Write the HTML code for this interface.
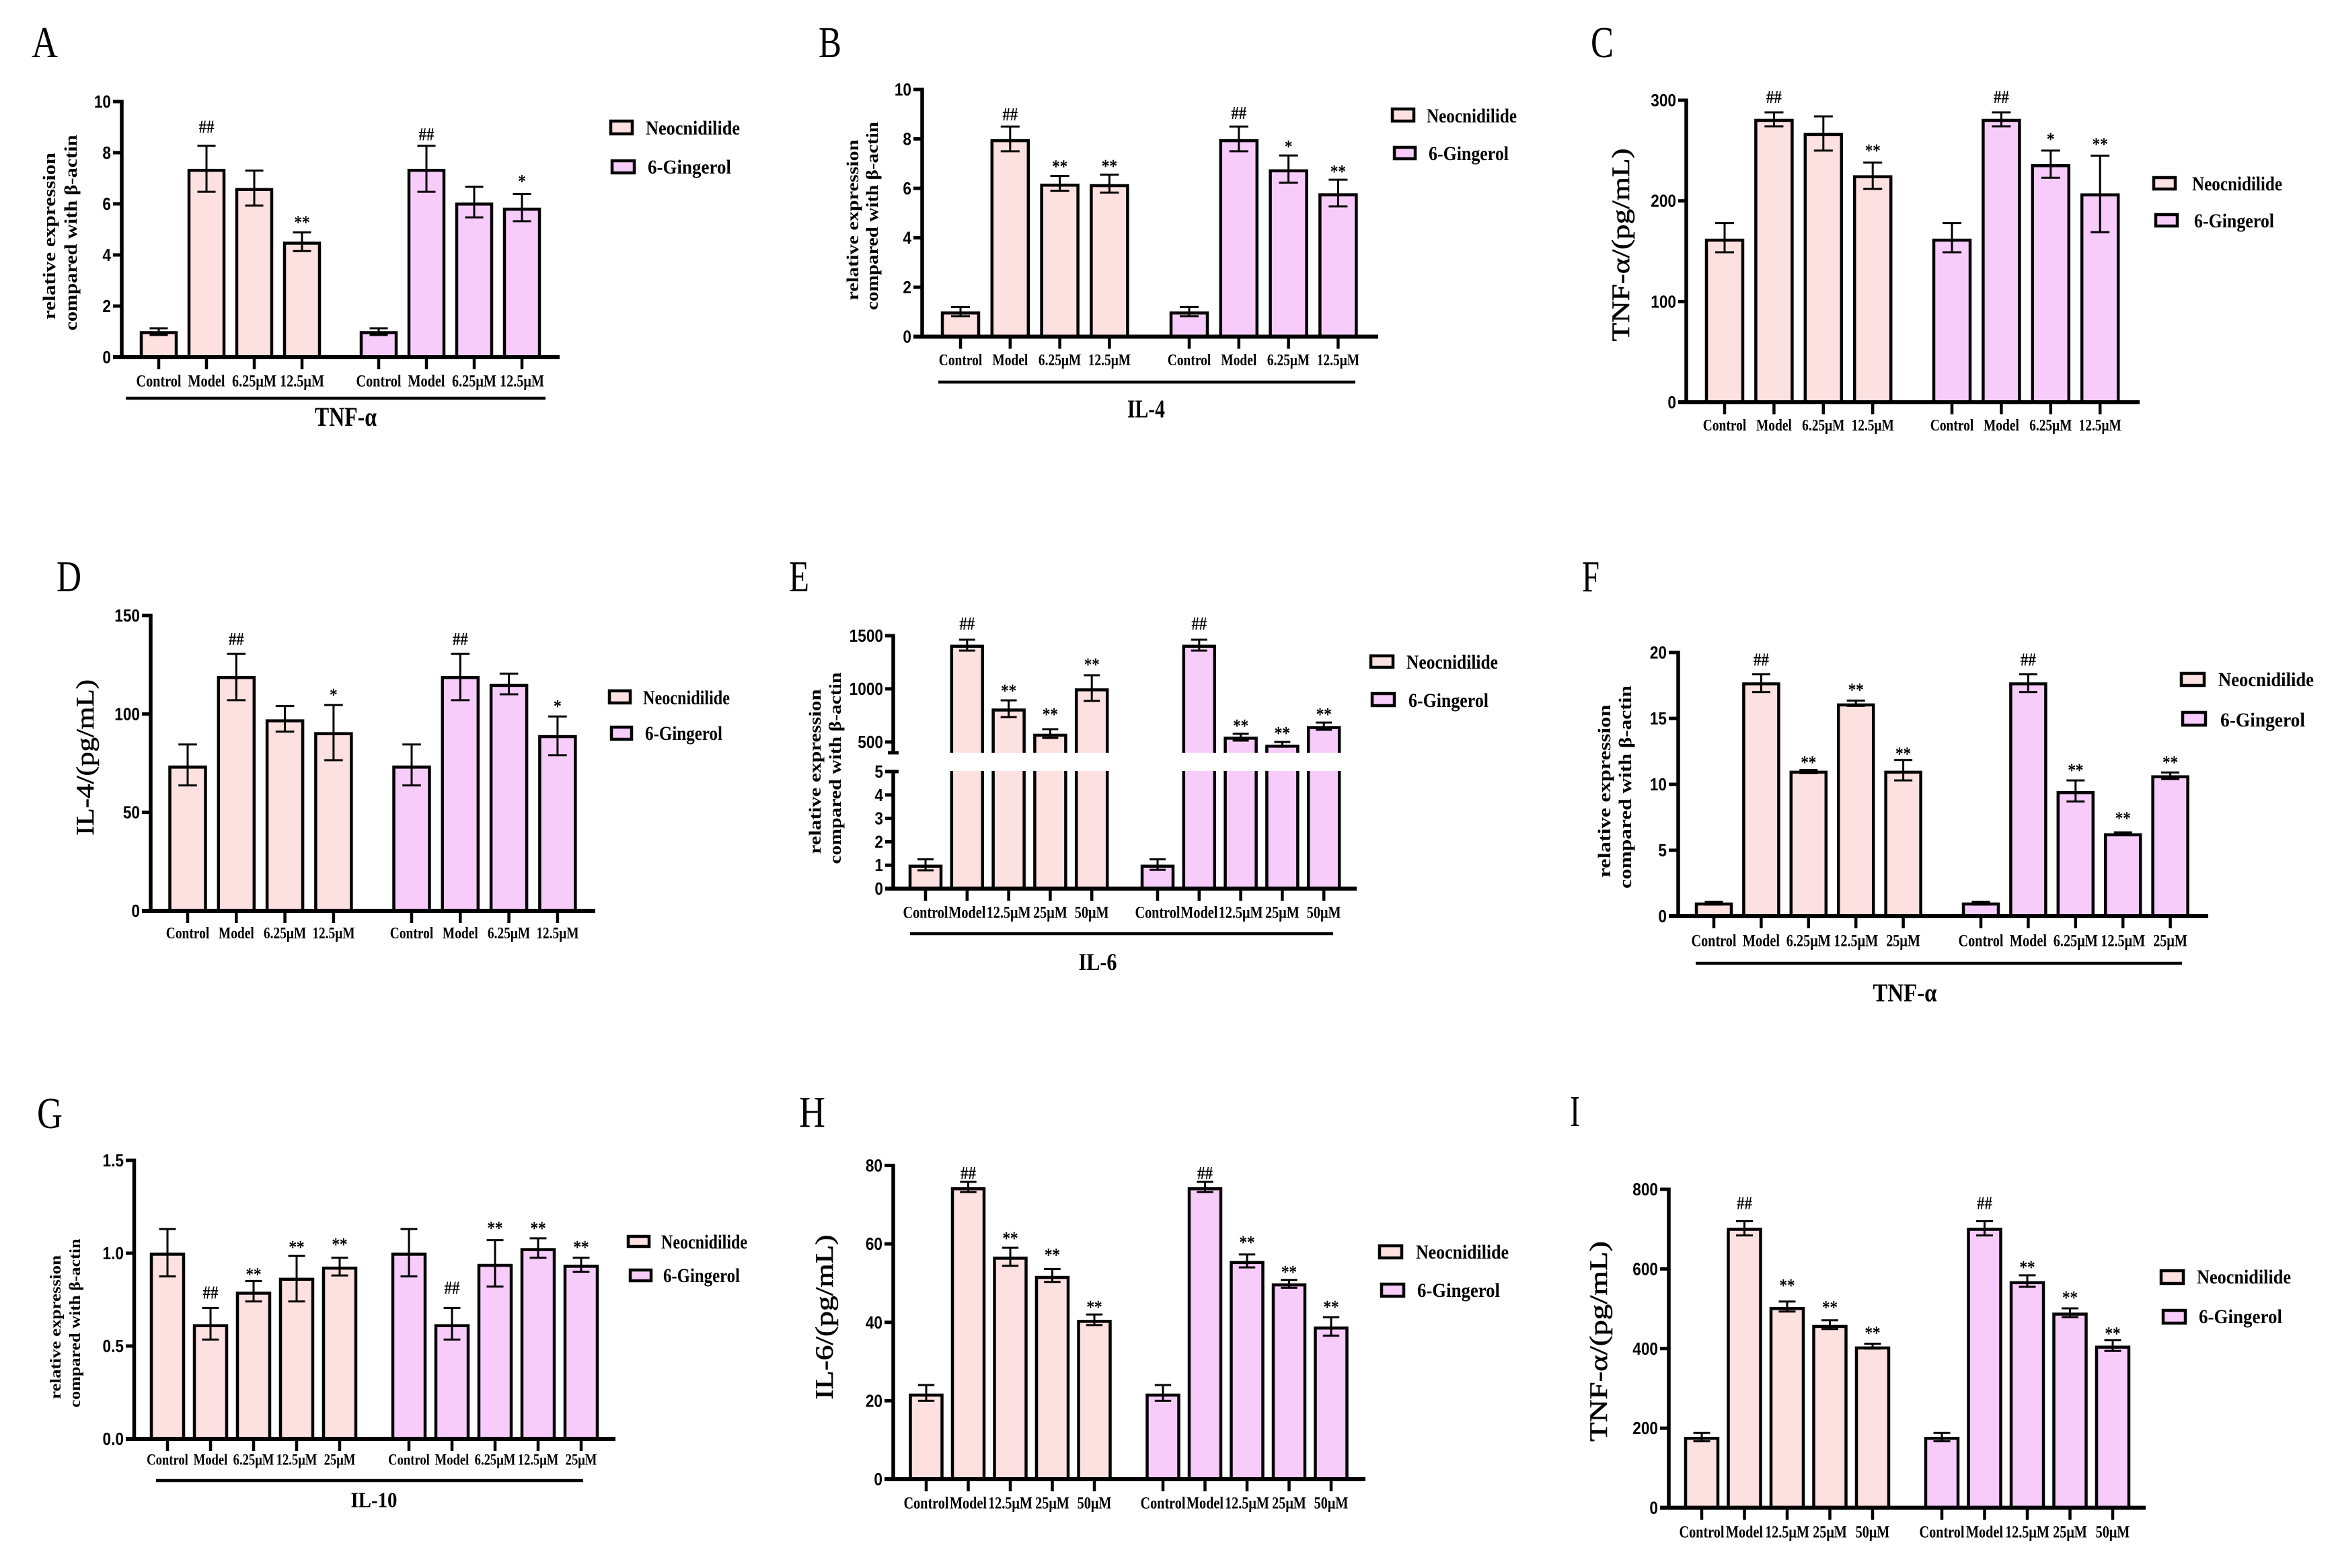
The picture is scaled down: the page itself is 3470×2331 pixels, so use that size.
<!DOCTYPE html>
<html lang="en">
<head>
<meta charset="utf-8">
<title>Relative expression and cytokine levels, Neocnidilide and 6-Gingerol</title>
<style>
html,body{margin:0;padding:0;background:#fff;width:3470px;height:2331px;overflow:hidden}
svg{display:block}
text{fill:#000}
</style>
</head>
<body>
<svg id="figure" xmlns="http://www.w3.org/2000/svg" width="3470" height="2331" viewBox="0 0 3470 2331"></svg>
<script>
/* ---------- category labels ---------- */
const labelsFour = ['Control','Model','6.25μM','12.5μM'];
const labelsFiveHigh = ['Control','Model','12.5μM','25μM','50μM'];
const labelsFiveLow = ['Control','Model','6.25μM','12.5μM','25μM'];
const seriesNames = ['Neocnidilide','6-Gingerol'];

/* ---------- panel A ---------- */
const aYTicks = [0,2,4,6,8,10];
const aNeoMean = [1,7.35,6.6,4.5];
const aNeoHigh = [1.13,8.27,7.3,4.88];
const aNeoLow = [0.87,6.47,5.93,4.15];
const aNeoSig = ['','##','','**'];
const aGinMean = [1,7.35,6.03,5.83];
const aGinHigh = [1.13,8.27,6.67,6.38];
const aGinLow = [0.87,6.47,5.47,5.32];
const aGinSig = ['','##','','*'];

/* ---------- panel B ---------- */
const bYTicks = [0,2,4,6,8,10];
const bNeoMean = [1,7.97,6.17,6.15];
const bNeoHigh = [1.2,8.5,6.5,6.55];
const bNeoLow = [0.83,7.5,5.9,5.83];
const bNeoSig = ['','##','**','**'];
const bGinMean = [1,7.97,6.75,5.78];
const bGinHigh = [1.2,8.5,7.33,6.35];
const bGinLow = [0.83,7.5,6.23,5.27];
const bGinSig = ['','##','*','**'];

/* ---------- panel C ---------- */
const cYTicks = [0,100,200,300];
const cNeoMean = [162,281,267,225];
const cNeoHigh = [178,288,284,238];
const cNeoLow = [149,274,250,212];
const cNeoSig = ['','##','','**'];
const cGinMean = [162,281,236,207];
const cGinHigh = [178,288,250,245];
const cGinLow = [149,274,223,169];
const cGinSig = ['','##','*','**'];

/* ---------- panel D ---------- */
const dYTicks = [0,50,100,150];
const dNeoMean = [73.5,119,97,90.5];
const dNeoHigh = [84.5,130.5,104,104.5];
const dNeoLow = [63.7,107,91,76.5];
const dNeoSig = ['','##','','*'];
const dGinMean = [73.5,119,115,89];
const dGinHigh = [84.5,130.5,120.5,98.7];
const dGinLow = [63.7,107,110,79];
const dGinSig = ['','##','','*'];

/* ---------- panel E (broken axis) ---------- */
const eYTicks = [0,1,2,3,4,5,500,1000,1500];
const eNeoMean = [1,1410,810,573,1000];
const eNeoHigh = [1.25,1462,892,620,1127];
const eNeoLow = [0.78,1360,734,538,886];
const eNeoSig = ['','##','**','**','**'];
const eGinMean = [1,1410,545,470,645];
const eGinHigh = [1.25,1462,577,500,683];
const eGinLow = [0.8,1360,513,455,615];
const eGinSig = ['','##','**','**','**'];

/* ---------- panel F ---------- */
const fYTicks = [0,5,10,15,20];
const fNeoMean = [1,17.7,11,16.1,11];
const fNeoHigh = [1.1,18.35,11.1,16.35,11.85];
const fNeoLow = [0.88,17,10.85,15.95,10.3];
const fNeoSig = ['','##','**','**','**'];
const fGinMean = [1,17.7,9.45,6.25,10.65];
const fGinHigh = [1.1,18.35,10.3,6.35,10.9];
const fGinLow = [0.88,17,8.7,6.15,10.4];
const fGinSig = ['','##','**','**','**'];

/* ---------- panel G ---------- */
const gYTicks = ['0.0','0.5','1.0','1.5'];
const gNeoMean = [1,0.615,0.79,0.865,0.925];
const gNeoHigh = [1.13,0.705,0.85,0.985,0.975];
const gNeoLow = [0.875,0.535,0.74,0.74,0.88];
const gNeoSig = ['','##','**','**','**'];
const gGinMean = [1,0.615,0.94,1.025,0.935];
const gGinHigh = [1.13,0.705,1.07,1.08,0.975];
const gGinLow = [0.875,0.535,0.82,0.975,0.9];
const gGinSig = ['','##','**','**','**'];

/* ---------- panel H ---------- */
const hYTicks = [0,20,40,60,80];
const hNeoMean = [21.7,74.3,56.6,51.7,40.5];
const hNeoHigh = [24,75.8,59,53.6,42];
const hNeoLow = [20,73.2,54.4,50.3,39.3];
const hNeoSig = ['','##','**','**','**'];
const hGinMean = [21.7,74.3,55.5,49.8,38.8];
const hGinHigh = [24,75.8,57.3,50.8,41.3];
const hGinLow = [20,73.2,54,48.8,36.6];
const hGinSig = ['','##','**','**','**'];

/* ---------- panel I ---------- */
const iYTicks = [0,200,400,600,800];
const iNeoMean = [177,702,503,458,404];
const iNeoHigh = [188,720,518,471,412];
const iNeoLow = [167,684,493,449,400];
const iNeoSig = ['','##','**','**','**'];
const iGinMean = [177,702,568,489,406];
const iGinHigh = [188,720,584,501,421];
const iGinLow = [167,684,555,479,394];
const iGinSig = ['','##','**','**','**'];

/* ---------- layout of each panel (geometry only, no data) ---------- */
const panels = [
 {key:'a',letter:'A',letterX:47,letterY:85,letterW:39,
  ticks:aYTicks,labels:labelsFour,
  neo:{mean:aNeoMean,high:aNeoHigh,low:aNeoLow,sig:aNeoSig,lift:[0,28,0,19]},
  gin:{mean:aGinMean,high:aGinHigh,low:aGinLow,sig:aGinSig,lift:[0,17,0,23]},
  ax:181,y0:531,yTop:151,left:168,right:832,first:[236,563],step:71,barW:52,labelY:566,labelFont:25,
  under:{y:592,x1:187,x2:811},title:{text:'TNF-α',cx:514,cy:620,w:92,font:40},
  ytitle:[{text:'relative expression',cx:74,cy:351,len:248},{text:'compared with β-actin',cx:106,cy:346,len:291}],ytitleFont:26,
  legend:[{x:908,y:180,w:32,h:19,tx:960,tw:140,cy:190},{x:910,y:239,w:33,h:18,tx:963,tw:124,cy:248}]},
 {key:'b',letter:'B',letterX:1217,letterY:85,letterW:34,
  ticks:bYTicks,labels:labelsFour,
  neo:{mean:bNeoMean,high:bNeoHigh,low:bNeoLow,sig:bNeoSig,lift:[0,18,18,17]},
  gin:{mean:bGinMean,high:bGinHigh,low:bGinLow,sig:bGinSig,lift:[0,20,17,16]},
  ax:1371,y0:500.5,yTop:133,left:1358,right:2049,first:[1428,1768],step:73.8,barW:54,labelY:535,labelFont:24,
  under:{y:568,x1:1395,x2:2015},title:{text:'IL-4',cx:1704,cy:608,w:56,font:38},
  ytitle:[{text:'relative expression',cx:1268,cy:327,len:239},{text:'compared with β-actin',cx:1297,cy:321,len:280}],ytitleFont:25,
  legend:[{x:2070,y:162,w:32,h:18,tx:2121,tw:134,cy:172},{x:2073,y:219,w:31,h:17,tx:2124,tw:119,cy:228}]},
 {key:'c',letter:'C',letterX:2365,letterY:85,letterW:34,
  ticks:cYTicks,labels:labelsFour,
  neo:{mean:cNeoMean,high:cNeoHigh,low:cNeoLow,sig:cNeoSig,lift:[0,23,0,22]},
  gin:{mean:cGinMean,high:cGinHigh,low:cGinLow,sig:cGinSig,lift:[0,23,21,21]},
  ax:2507,y0:598,yTop:149,left:2495,right:3181,first:[2564,2902],step:73.4,barW:54,labelY:632,labelFont:24,
  ytitleLarge:{text:'TNF-α/(pg/mL)',cx:2411,cy:364,len:287},
  legend:[{x:3202,y:264,w:32,h:17,tx:3259,tw:134,cy:273},{x:3205,y:319,w:32,h:17,tx:3262,tw:119,cy:328}]},
 {key:'d',letter:'D',letterX:84,letterY:879,letterW:37,
  ticks:dYTicks,labels:labelsFour,
  neo:{mean:dNeoMean,high:dNeoHigh,low:dNeoLow,sig:dNeoSig,lift:[0,22,0,19]},
  gin:{mean:dGinMean,high:dGinHigh,low:dGinLow,sig:dGinSig,lift:[0,22,0,19]},
  ax:224,y0:1354,yTop:915,left:211,right:885,first:[279,612],step:72.3,barW:53,labelY:1387,labelFont:24,
  ytitleLarge:{text:'IL-4/(pg/mL)',cx:128,cy:1126,len:232},
  legend:[{x:906,y:1027,w:31,h:18,tx:956,tw:129,cy:1037},{x:909,y:1081,w:30,h:18,tx:959,tw:115,cy:1090}]},
 {key:'e',letter:'E',letterX:1173,letterY:879,letterW:30,
  ticks:eYTicks,labels:labelsFiveHigh,
  neo:{mean:eNeoMean,high:eNeoHigh,low:eNeoLow,sig:eNeoSig,lift:[0,24,18,26,20]},
  gin:{mean:eGinMean,high:eGinHigh,low:eGinLow,sig:eGinSig,lift:[0,24,16,17,16]},
  ax:1328,y0:1321,yTop:945,left:1316,right:2017,first:[1376,1721],step:61.8,barW:46,labelY:1356,labelFont:25,
  brk:{lowMax:5,lowTop:1147,hiRef:500,hiRefY:1103,hiMax:1500,hiTop:945,hiBottom:1119},
  under:{y:1388,x1:1353,x2:1982},title:{text:'IL-6',cx:1632,cy:1430,w:57,font:36},
  ytitle:[{text:'relative expression',cx:1212,cy:1147,len:245},{text:'compared with β-actin',cx:1242,cy:1142,len:285}],ytitleFont:25,
  legend:[{x:2038,y:975,w:33,h:17,tx:2091,tw:136,cy:984},{x:2040,y:1031,w:33,h:18,tx:2094,tw:119,cy:1041}]},
 {key:'f',letter:'F',letterX:2352,letterY:879,letterW:26,
  ticks:fYTicks,labels:labelsFiveLow,
  neo:{mean:fNeoMean,high:fNeoHigh,low:fNeoLow,sig:fNeoSig,lift:[0,22,15,20,13]},
  gin:{mean:fGinMean,high:fGinHigh,low:fGinLow,sig:fGinSig,lift:[0,22,19,25,19]},
  ax:2495,y0:1362,yTop:970,left:2481,right:3283,first:[2548,2945],step:70.4,barW:52,labelY:1398,labelFont:25,
  under:{y:1432,x1:2521,x2:3244},title:{text:'TNF-α',cx:2832,cy:1476,w:95,font:38},
  ytitle:[{text:'relative expression',cx:2386,cy:1176,len:257},{text:'compared with β-actin',cx:2417,cy:1170,len:302}],ytitleFont:26,
  legend:[{x:3243,y:1001,w:34,h:18,tx:3298,tw:142,cy:1010},{x:3245,y:1059,w:34,h:19,tx:3301,tw:126,cy:1070}]},
 {key:'g',letter:'G',letterX:55,letterY:1677,letterW:38,
  ticks:gYTicks,labels:labelsFiveLow,
  neo:{mean:gNeoMean,high:gNeoHigh,low:gNeoLow,sig:gNeoSig,lift:[0,23,14,17,24]},
  gin:{mean:gGinMean,high:gGinHigh,low:gGinLow,sig:gGinSig,lift:[0,30,22,19,20]},
  ax:199.5,y0:2139,yTop:1725,left:187,right:915,first:[249,608],step:64,barW:48,labelY:2170,labelFont:23,
  under:{y:2201,x1:232,x2:867},title:{text:'IL-10',cx:556,cy:2230,w:69,font:32},
  ytitle:[{text:'relative expression',cx:82,cy:1973,len:214},{text:'compared with β-actin',cx:111,cy:1967,len:251}],ytitleFont:23,
  legend:[{x:934,y:1838,w:31,h:15,tx:983,tw:128,cy:1846},{x:937,y:1888,w:31,h:16,tx:986,tw:114,cy:1896}]},
 {key:'h',letter:'H',letterX:1188,letterY:1675,letterW:39,
  ticks:hYTicks,labels:labelsFiveHigh,
  neo:{mean:hNeoMean,high:hNeoHigh,low:hNeoLow,sig:hNeoSig,lift:[0,13,18,25,15]},
  gin:{mean:hGinMean,high:hGinHigh,low:hGinLow,sig:hGinSig,lift:[0,13,22,16,19]},
  ax:1328,y0:2199,yTop:1732.5,left:1315,right:2030,first:[1377,1729],step:62.5,barW:47,labelY:2234,labelFont:25,
  ytitleLarge:{text:'IL-6/(pg/mL)',cx:1227,cy:1958,len:245},
  legend:[{x:2051,y:1852,w:33,h:18,tx:2105,tw:138,cy:1861},{x:2054,y:1909,w:33,h:18,tx:2107,tw:123,cy:1918}]},
 {key:'i',letter:'I',letterX:2334,letterY:1674,letterW:15,
  ticks:iYTicks,labels:labelsFiveHigh,
  neo:{mean:iNeoMean,high:iNeoHigh,low:iNeoLow,sig:iNeoSig,lift:[0,27,28,23,20]},
  gin:{mean:iGinMean,high:iGinHigh,low:iGinLow,sig:iGinSig,lift:[0,27,16,20,14]},
  ax:2481,y0:2241.5,yTop:1768,left:2468,right:3190,first:[2530,2887],step:63.5,barW:48,labelY:2277,labelFont:25,
  ytitleLarge:{text:'TNF-α/(pg/mL)',cx:2378,cy:1994,len:298},
  legend:[{x:3213,y:1889,w:33,h:19,tx:3266,tw:140,cy:1898},{x:3216,y:1948,w:33,h:19,tx:3269,tw:124,cy:1957}]}
];

const COLORS = ['#FDE0E0','#F8CCFA'];
const SERIF = '"Liberation Serif", serif';
const SANS = '"Liberation Sans", sans-serif';
const NS = 'http://www.w3.org/2000/svg';
const root = document.getElementById('figure');

function node(tag, parent){
  const el = document.createElementNS(NS, tag);
  parent.appendChild(el);
  return el;
}
function lineEl(parent, x1, y1, x2, y2, w){
  const el = node('line', parent);
  el.setAttribute('x1', x1);
  el.setAttribute('y1', y1);
  el.setAttribute('x2', x2);
  el.setAttribute('y2', y2);
  el.setAttribute('stroke', '#000');
  el.setAttribute('stroke-width', w);
  return el;
}
function rectEl(parent, x, y, w, h, fill, sw){
  const el = node('rect', parent);
  el.setAttribute('x', x);
  el.setAttribute('y', y);
  el.setAttribute('width', w);
  el.setAttribute('height', h);
  el.setAttribute('fill', fill);
  if (sw) { el.setAttribute('stroke', '#000'); el.setAttribute('stroke-width', sw); }
  return el;
}
function textEl(parent, str, size, family, weight, transform, anchor, len){
  const el = node('text', parent);
  el.textContent = str;
  el.setAttribute('font-size', size);
  el.setAttribute('font-family', family);
  el.setAttribute('font-weight', weight);
  el.setAttribute('transform', transform);
  el.setAttribute('text-anchor', anchor);
  if (len) { el.setAttribute('textLength', len); el.setAttribute('lengthAdjust', 'spacingAndGlyphs'); }
  return el;
}

/* axis function: value -> pixel, linear or broken */
function yScale(p, v){
  if (p.brk) {
    const b = p.brk;
    if (v <= b.lowMax) return p.y0 - v * (p.y0 - b.lowTop) / b.lowMax;
    return b.hiRefY - (v - b.hiRef) * (b.hiRefY - b.hiTop) / (b.hiMax - b.hiRef);
  }
  const ticks = p.ticks.map(Number);
  return p.y0 - v * (p.y0 - p.yTop) / Math.max.apply(null, ticks);
}
/* axis function: group / category -> pixel */
function xScale(p, group, i){
  return p.first[group] + i * p.step;
}

function drawSeries(g, p, s, group, seriesLabel){
  const w = p.barW;
  s.mean.forEach(function(v, i){
    const cx = xScale(p, group, i);
    const top = yScale(p, v) + 1.5;
    const bar = rectEl(g, cx - w/2, top, w, p.y0 - top, COLORS[group], 4.5);
    
    
  });
  if (p.brk) {
    const band = rectEl(g, p.ax + 10, p.brk.hiBottom, p.right - p.ax, p.brk.lowTop - 1 - p.brk.hiBottom, '#fff', 0);
    
    
  }
  s.mean.forEach(function(v, i){
    const cx = xScale(p, group, i);
    const hi = yScale(p, s.high[i]);
    const lo = yScale(p, s.low[i]);
    const cap = w * 0.52;
    const stem = lineEl(g, cx, hi, cx, lo, 3);
    
    
    const capHi = lineEl(g, cx - cap/2, hi, cx + cap/2, hi, 3);
    
    
    const capLo = lineEl(g, cx - cap/2, lo, cx + cap/2, lo, 3);
    
    
    const sig = s.sig[i];
    if (sig) {
      const cy = hi - s.lift[i];
      const isHash = sig.charAt(0) === '#';
      const size = isHash ? 27 : 27;
      const base = isHash ? cy + 9 : cy + 13;
      const mark = textEl(g, sig, size, SERIF, isHash ? 'bold' : 'normal',
        'translate(' + cx + ',' + base + ') scale(0.85,1)', 'middle');
      if (!isHash) { mark.setAttribute('stroke', '#000'); mark.setAttribute('stroke-width', '0.5'); }
      
      
    }
  });
}

function drawPanel(p){
  const g = node('g', root);
  
  

  const letter = textEl(g, p.letter, 66, SERIF, 'normal', 'translate(' + p.letterX + ',' + p.letterY + ')', 'start', p.letterW);
  
  

  drawSeries(g, p, p.neo, 0, 'neocnidilide');
  drawSeries(g, p, p.gin, 1, 'gingerol');

  /* y axis */
  if (p.brk) {
    const lower = lineEl(g, p.ax, p.y0, p.ax, p.brk.lowTop, 5.5);
    
    
    const upper = lineEl(g, p.ax, p.brk.hiBottom, p.ax, p.brk.hiTop - 2.5, 5.5);
    
    
    const capA = lineEl(g, p.ax - 8, p.brk.hiBottom, p.ax + 8, p.brk.hiBottom, 5);
    
    
    const capB = lineEl(g, p.ax - 8, p.brk.lowTop, p.ax + 8, p.brk.lowTop, 5);
    
    
  } else {
    const yAxis = lineEl(g, p.ax, p.y0, p.ax, p.yTop - 2.5, 5.5);
    
    
  }
  p.ticks.forEach(function(t){
    const y = yScale(p, Number(t));
    const tick = lineEl(g, p.left, y, p.ax, y, 5);
    
    
    const lab = textEl(g, String(t), 26, SANS, 'bold',
      'translate(' + (p.left - 3) + ',' + (y + 9) + ') scale(0.87,1)', 'end');
    
    
  });

  /* x axis */
  const xAxis = lineEl(g, p.left, p.y0, p.right, p.y0, 6);
  
  
  [0, 1].forEach(function(group){
    p.labels.forEach(function(label, i){
      const cx = xScale(p, group, i);
      const tick = lineEl(g, cx, p.y0, cx, p.y0 + 18, 4.5);
      
      
      const lab = textEl(g, label, p.labelFont, SERIF, 'bold',
        'translate(' + cx + ',' + (p.labelY + p.labelFont * 0.33) + ') scale(0.81,1)', 'middle');
      
      
    });
  });

  /* group underline and gene title */
  if (p.under) {
    const rule = lineEl(g, p.under.x1, p.under.y, p.under.x2, p.under.y, 4.5);
    
    
    const t = p.title;
    const title = textEl(g, t.text, t.font, SERIF, 'bold',
      'translate(' + t.cx + ',' + (t.cy + t.font * 0.33) + ')', 'middle', t.w);
    
    
  }

  /* y titles */
  if (p.ytitle) {
    p.ytitle.forEach(function(line){
      const yt = textEl(g, line.text, p.ytitleFont, SERIF, 'bold',
        'translate(' + (line.cx + 8) + ',' + line.cy + ') rotate(-90)', 'middle', line.len);
      
      
    });
  }
  if (p.ytitleLarge) {
    const t = p.ytitleLarge;
    const yt = textEl(g, t.text, 37, SERIF, 'normal',
      'translate(' + (t.cx + 11) + ',' + t.cy + ') rotate(-90)', 'middle', t.len);
    yt.setAttribute('stroke', '#000');
    yt.setAttribute('stroke-width', '0.6');
    
    
  }

  /* legend */
  p.legend.forEach(function(item, i){
    const sw = rectEl(g, item.x, item.y, item.w, item.h, COLORS[i], 4.5);
    
    
    const lab = textEl(g, seriesNames[i], 30, SERIF, 'bold',
      'translate(' + item.tx + ',' + (item.cy + 10) + ')', 'start', item.tw);
    
    
  });
}

panels.forEach(drawPanel);
</script>
</body>
</html>
